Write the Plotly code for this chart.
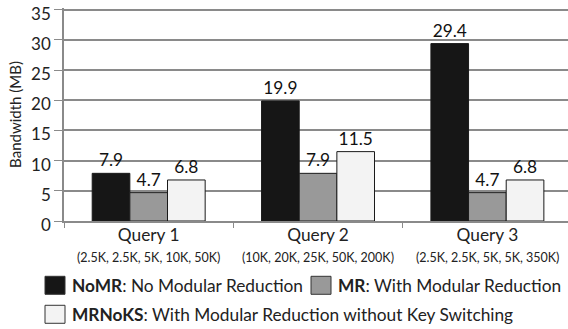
import plotly.graph_objects as go

categories = ["Query 1", "Query 2", "Query 3"]
params = ["(2.5K, 2.5K, 5K, 10K, 50K)", "(10K, 20K, 25K, 50K, 200K)", "(2.5K, 2.5K, 5K, 5K, 350K)"]
series_names = ["NoMR", "MR", "MRNoKS"]
series_desc = ["No Modular Reduction", "With Modular Reduction", "With Modular Reduction without Key Switching"]
nomr = [7.9, 19.9, 29.4]
mr = [4.7, 7.9, 4.7]
mrnoks = [6.8, 11.5, 6.8]
y_ticks = [0, 5, 10, 15, 20, 25, 30, 35]

colors = ["#161616", "#999999", "#f3f3f3"]
FONT = "Lato"

W, H = 568, 329
Y_MAX = 35.3
PX_PER_UNIT = (220.7 - 9.5) / 35
L, R = 64, 0
T = 9.5 - (Y_MAX - 35) * PX_PER_UNIT
B = 329 - 220.7


def px2x(px):
    return (px - L) / (W - L - R)


def py2y(py):
    return (H - B - py) / (H - T - B)


fig = go.Figure()
for name, vals, col in zip(series_names, [nomr, mr, mrnoks], colors):
    fig.add_trace(go.Bar(
        x=categories, y=vals, name=name,
        marker=dict(color=col, line=dict(color="#1a1a1a", width=1)),
        text=[f"{v:.1f}" for v in vals], textposition="outside",
        textfont=dict(size=17.3, color="#111111", family=FONT),
        cliponaxis=False, showlegend=False,
    ))

# parameter sublabels under the category labels
for c, p in zip(categories, params):
    fig.add_annotation(x=c, xref="x", y=py2y(257), yref="paper", text=p,
                       showarrow=False, yanchor="middle", xanchor="center",
                       font=dict(size=12.5, color="#222222", family=FONT))

# custom legend
legend_pos = [(45, 285), (311, 285), (45, 314)]
for (lx, ly), name, desc, col in zip(legend_pos, series_names, series_desc, colors):
    fig.add_shape(type="rect", xref="paper", yref="paper",
                  x0=px2x(lx), x1=px2x(lx + 20), y0=py2y(ly - 9), y1=py2y(ly + 9),
                  fillcolor=col, line=dict(color="#333333", width=1))
    fig.add_annotation(x=px2x(lx + 25), y=py2y(ly), xref="paper", yref="paper",
                       text=f"<b>{name}</b>: {desc}", showarrow=False,
                       xanchor="left", yanchor="middle",
                       font=dict(size=17.3, color="#222222", family=FONT))

fig.update_layout(
    width=W, height=H,
    margin=dict(l=L, r=R, t=T, b=B, pad=0),
    paper_bgcolor="white", plot_bgcolor="white",
    barmode="group", bargap=0.333, bargroupgap=0,
    font=dict(family=FONT, color="#222222"),
    xaxis=dict(
        type="category", range=[-0.5, 2.476],
        showline=True, linecolor="#8a8a8a", linewidth=2,
        ticks="outside", tickson="boundaries", ticklen=5, tickcolor="#8a8a8a", tickwidth=1,
        tickfont=dict(size=17.3, family=FONT, color="#222222"),
        ticklabelstandoff=-3,
        showgrid=False, automargin=False,
    ),
    yaxis=dict(
        range=[0, Y_MAX], tickvals=y_ticks,
        showline=True, linecolor="#8a8a8a", linewidth=1.5,
        ticks="outside", ticklen=8, tickcolor="#8a8a8a",
        showgrid=True, gridcolor="#8a8a8a", gridwidth=1.5,
        zeroline=False, automargin=False, ticklabelshift=4,
        ticklabeloverflow="allow",
        tickfont=dict(size=17, family=FONT, color="#222222"),
        title=dict(text="Bandwidth (MB)", font=dict(size=15, family=FONT, color="#222222"), standoff=6),
    ),
)

fig.write_html("out.html", config={"displayModeBar": False},
               post_script="document.body.style.margin='0';")
